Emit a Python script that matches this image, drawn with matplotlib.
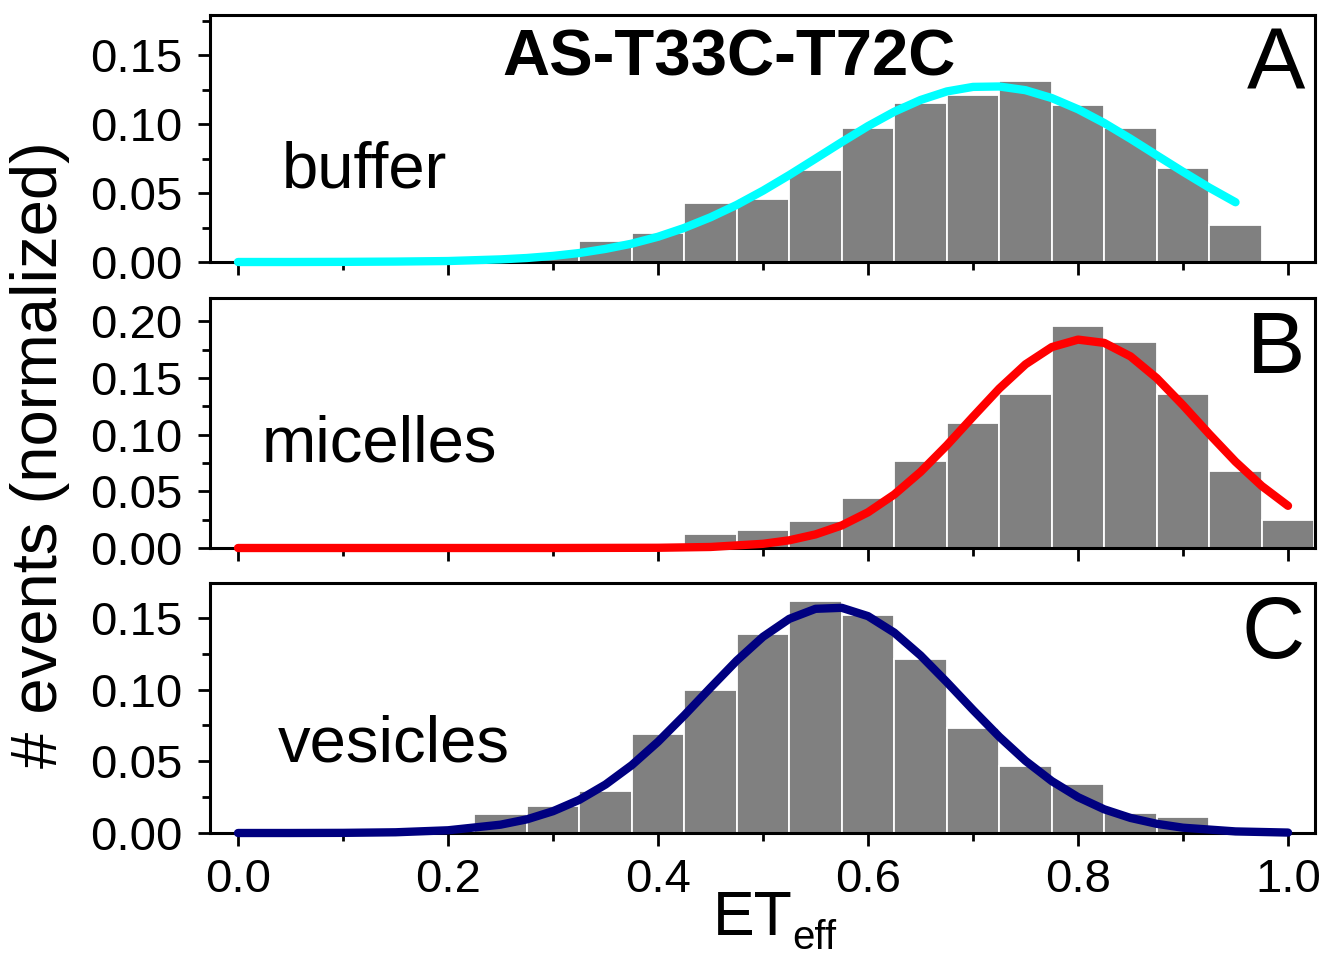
import matplotlib
matplotlib.use("Agg")
import matplotlib.pyplot as plt
from matplotlib.ticker import MultipleLocator

plt.rcParams["font.family"] = ["Liberation Sans", "DejaVu Sans"]

# ---- histogram bars (bin width 0.05) ----
bins_a = [0.25, 0.30, 0.35, 0.40, 0.45, 0.50, 0.55, 0.60, 0.65, 0.70, 0.75, 0.80, 0.85, 0.90, 0.95]
hist_a = [0.004, 0.006, 0.015, 0.021, 0.043, 0.046, 0.067, 0.097, 0.115, 0.121, 0.131, 0.114, 0.097, 0.068, 0.027]

bins_b = [0.40, 0.45, 0.50, 0.55, 0.60, 0.65, 0.70, 0.75, 0.80, 0.85, 0.90, 0.95, 1.00]
hist_b = [0.003, 0.012, 0.016, 0.024, 0.044, 0.077, 0.110, 0.136, 0.196, 0.182, 0.136, 0.068, 0.025]

bins_c = [0.25, 0.30, 0.35, 0.40, 0.45, 0.50, 0.55, 0.60, 0.65, 0.70, 0.75, 0.80, 0.85, 0.90, 0.95]
hist_c = [0.013, 0.019, 0.029, 0.069, 0.0997, 0.139, 0.162, 0.152, 0.121, 0.0735, 0.047, 0.034, 0.014, 0.011, 0.003]

# ---- fitted curves ----
fit_a_x = [0.0, 0.05, 0.10, 0.15, 0.20, 0.25, 0.275, 0.30, 0.325, 0.35, 0.375, 0.40, 0.425, 0.45,
           0.475, 0.50, 0.525, 0.55, 0.575, 0.60, 0.625, 0.65, 0.675, 0.70, 0.725, 0.75, 0.775,
           0.80, 0.825, 0.85, 0.875, 0.90, 0.925, 0.95]
fit_a_y = [0.0, 0.0, 0.0001, 0.0003, 0.0007, 0.0019, 0.0029, 0.0044, 0.0065, 0.0095, 0.0133, 0.0183,
           0.0247, 0.0324, 0.0414, 0.0517, 0.0630, 0.0749, 0.0869, 0.0985, 0.1089, 0.1174, 0.1236,
           0.1269, 0.1272, 0.1245, 0.1188, 0.1107, 0.1007, 0.0893, 0.0773, 0.0654, 0.0539, 0.0433]

fit_b_x = [0.0, 0.1, 0.2, 0.3, 0.4, 0.45, 0.50, 0.525, 0.55, 0.575, 0.60, 0.625, 0.65, 0.675,
           0.70, 0.725, 0.75, 0.775, 0.80, 0.825, 0.85, 0.875, 0.90, 0.925, 0.95, 0.975, 1.0]
fit_b_y = [0.0, 0.0, 0.0, 0.0, 0.0002, 0.0009, 0.0037, 0.0068, 0.0120, 0.0199, 0.0315, 0.0472,
           0.0671, 0.0905, 0.1158, 0.1406, 0.1620, 0.1772, 0.1838, 0.1809, 0.1690, 0.1498,
           0.1259, 0.1005, 0.0761, 0.0547, 0.0372]

fit_c_x = [0.0, 0.05, 0.10, 0.15, 0.20, 0.25, 0.275, 0.30, 0.325, 0.35, 0.375, 0.40, 0.425, 0.45,
           0.475, 0.50, 0.525, 0.55, 0.575, 0.60, 0.625, 0.65, 0.675, 0.70, 0.725, 0.75, 0.775,
           0.80, 0.825, 0.85, 0.875, 0.90, 0.95, 1.0]
fit_c_y = [0.0, 0.0, 0.0001, 0.0005, 0.0019, 0.0058, 0.0095, 0.0152, 0.0231, 0.0338, 0.0473,
           0.0636, 0.0820, 0.1013, 0.1202, 0.1368, 0.1493, 0.1563, 0.1570, 0.1512, 0.1397, 0.1238,
           0.1052, 0.0858, 0.0671, 0.0503, 0.0362, 0.0250, 0.0165, 0.0105, 0.0064, 0.0037,
           0.0011, 0.0003]

panels = [
    ("buffer", "A", bins_a, hist_a, fit_a_x, fit_a_y, "#00FFFF", 0.179, (0.065, 0.30)),
    ("micelles", "B", bins_b, hist_b, fit_b_x, fit_b_y, "#FF0000", 0.2205, (0.047, 0.344)),
    ("vesicles", "C", bins_c, hist_c, fit_c_x, fit_c_y, "#000080", 0.1743, (0.0615, 0.284)),
]

fig = plt.figure(figsize=(13.23, 9.6), dpi=100)
W, H = 1323.0, 960.0
left, right = 210, 1315
boxes = [(15, 262), (298, 548), (583, 833)]

axes = []
for (top, bot), (name, letter, bx, bh, fx, fy, col, ymax, tpos) in zip(boxes, panels):
    ax = fig.add_axes([left / W, 1 - bot / H, (right - left) / W, (bot - top) / H])
    axes.append(ax)

    ax.bar(bx, bh, width=0.05, color="#808080", edgecolor="white", linewidth=1.3, zorder=1)
    ax.plot(fx, fy, color=col, lw=6, solid_capstyle="round", solid_joinstyle="round",
            zorder=3, clip_on=False)

    ax.set_xlim(-0.0267, 1.0257)
    ax.set_ylim(0, ymax)
    ax.xaxis.set_major_locator(MultipleLocator(0.2))
    ax.xaxis.set_minor_locator(MultipleLocator(0.1))
    ax.yaxis.set_major_locator(MultipleLocator(0.05))
    ax.yaxis.set_minor_locator(MultipleLocator(0.025))
    ax.yaxis.set_major_formatter(plt.FormatStrFormatter("%.2f"))
    ax.xaxis.set_major_formatter(plt.FormatStrFormatter("%.1f"))
    ax.tick_params(which="major", direction="out", length=9, width=2, labelsize=34, pad=9)
    ax.tick_params(which="minor", direction="out", length=6, width=2)
    ax.tick_params(axis="y", which="major", pad=11)
    ax.tick_params(axis="x", labelbottom=False)
    for s in ax.spines.values():
        s.set_linewidth(2.2)

    ax.text(tpos[0], tpos[1], name, transform=ax.transAxes, fontsize=47,
            ha="left", va="baseline")
    ax.text(0.991, 0.70, letter, transform=ax.transAxes, fontsize=63,
            ha="right", va="baseline")

axes[0].text(0.47, 0.757, "AS-T33C-T72C", transform=axes[0].transAxes, fontsize=47,
             fontweight="bold", ha="center", va="baseline")

axes[2].tick_params(axis="x", labelbottom=True)

# x label ET with subscript eff
fig.text(713 / W, 1 - 935 / H, "ET", fontsize=45, ha="left", va="baseline")
fig.text(792 / W, 1 - 949 / H, "eff", fontsize=29, ha="left", va="baseline")

fig.text(40 / W, 1 - 455 / H, "# events (normalized)", rotation=90, fontsize=47,
         ha="center", va="center")

fig.savefig("out.png", dpi=100)
